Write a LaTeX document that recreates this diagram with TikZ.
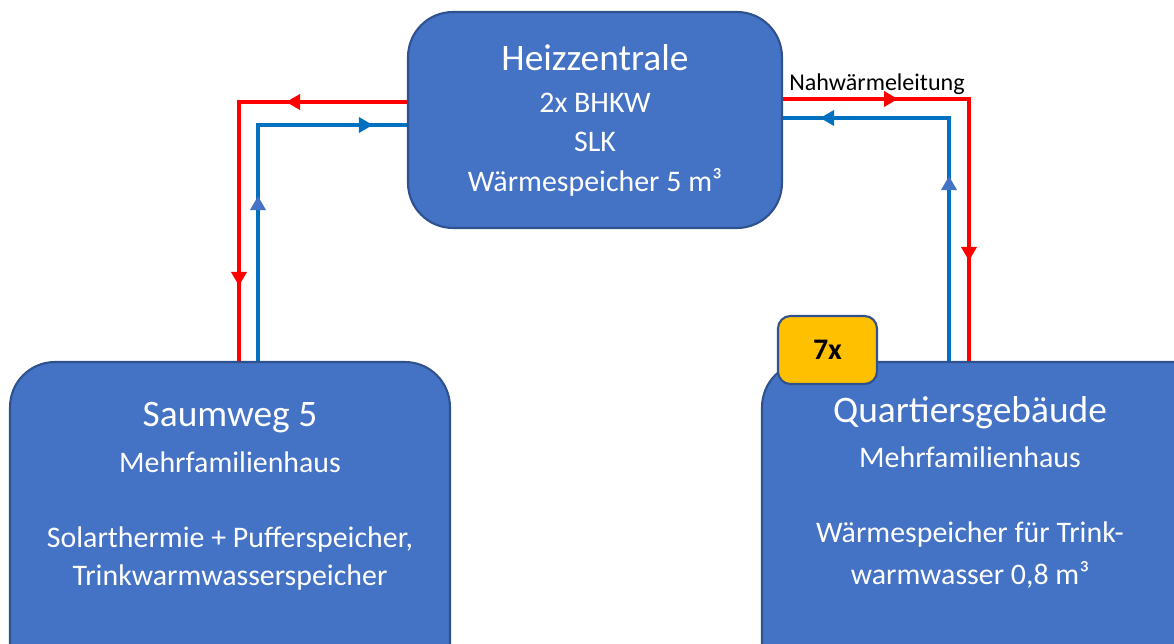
\documentclass[tikz,border=0pt]{standalone}
\usepackage{fontspec}
\setmainfont{Carlito}
\usetikzlibrary{arrows.meta,decorations.markings,backgrounds}
\definecolor{boxblue}{HTML}{4472C4}
\definecolor{boxline}{HTML}{2F528F}
\definecolor{pipeblue}{HTML}{0070C0}
\definecolor{pipered}{HTML}{FF0000}
\definecolor{tagyellow}{HTML}{FFC000}
\tikzset{
  house/.style={draw=boxline, line width=1.2pt, fill=boxblue, rounded corners=0.9cm, inner sep=0pt},
  tag/.style={draw=boxline, line width=1.2pt, fill=tagyellow, rounded corners=0.25cm, inner sep=0pt, minimum width=1.98cm, minimum height=1.36cm, font=\fontsize{17}{19}\selectfont\bfseries},
  title/.style={text=white, font=\fontsize{21.3}{24}\selectfont},
  info/.style={text=white, font=\fontsize{17}{20}\selectfont},
  pipe/.style={line width=2.8pt},
  tri/.tip={Triangle[width=0.3cm,length=0.28cm]},
  tips/.style 2 args={decoration={markings, mark=at position #1 with {\arrow{tri}}, mark=at position #2 with {\arrow{tri}}}, postaction={decorate}},
  uptips/.style 2 args={decoration={markings, mark=at position #1 with {\arrow[boxblue]{tri}}, mark=at position #2 with {\arrow{tri}}}, postaction={decorate}},
}
\begin{document}
\begin{tikzpicture}[x=0.02cm, y=-0.02cm]
\useasboundingbox (0,0) rectangle (1174,644);
\clip (0,0) rectangle (1174,644);
\node[house, minimum width=7.48cm, minimum height=4.32cm] (heiz) at (595,120){};
\node[house, minimum width=8.8cm, minimum height=6.6cm] (saum) at (230,527){};
\node[house, minimum width=9.4cm, minimum height=6.6cm] (quart) at (997,527){};
\node[tag] (sieben) at (827.5,350){7x};
\begin{scope}[on background layer]
% Leitungen links
\draw[pipe, pipered, tips={2.42cm}{7.04cm}] (heiz.west |- 0,102) -- (239,102) -- (saum.north -| 239,0);
\draw[pipe, pipeblue, uptips={3.3cm}{7.02cm}] (saum.north -| 258,0) -- (258,125) -- (heiz.west |- 0,125);
% Leitungen rechts
\draw[pipe, pipered, tips={2.3cm}{6.96cm}] (heiz.east |- 0,99) -- (969,99) -- (quart.north -| 969,0);
\draw[pipe, pipeblue, uptips={3.7cm}{7.44cm}] (quart.north -| 949,0) -- (949,118) -- (heiz.east |- 0,118);
\end{scope}
\node[font=\fontsize{13.7}{16}\selectfont] (nahw) at (877,84){Nahwärmeleitung};
% Texte
\node[title] (heiztitel) at (595,58){Heizzentrale};
\node[info] (bhkw) at (595,103){2x BHKW};
\node[info] (slk) at (595,142){SLK};
\node[info] (speicher) at (595,182){Wärmespeicher 5 m³};
\node[title] (saumtitel) at (230,418){Saumweg 5};
\node[info] (saumhaus) at (230,462){Mehrfamilienhaus};
\node[info] (solar) at (230,540){Solarthermie + Pufferspeicher,};
\node[info] (trink) at (230,578){Trinkwarmwasserspeicher};
\node[title] (quarttitel) at (970,413){Quartiersgebäude};
\node[info] (quarthaus) at (970,457){Mehrfamilienhaus};
\node[info] (wspeicher) at (970,535){Wärmespeicher für Trink-};
\node[info] (wwasser) at (970,575){warmwasser 0,8 m³};
\end{tikzpicture}
\end{document}
